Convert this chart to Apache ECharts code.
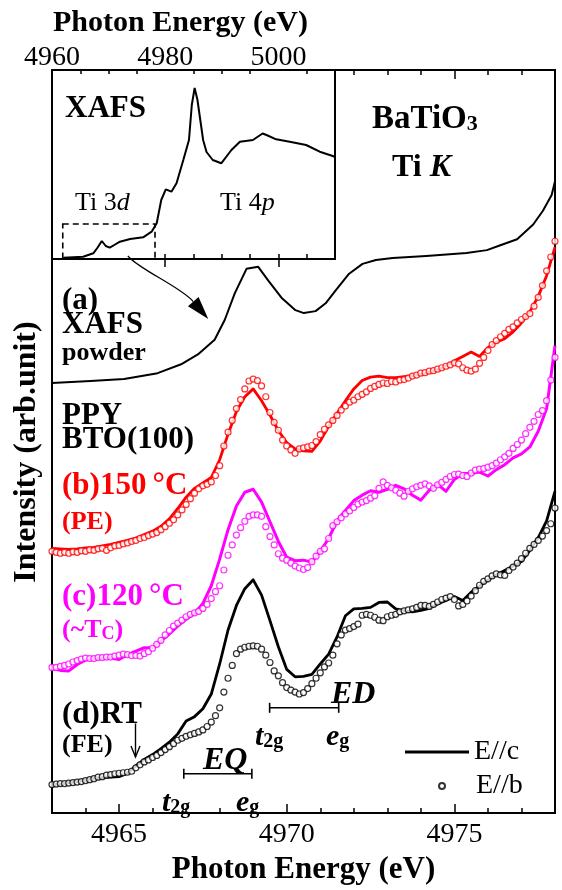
<!DOCTYPE html>
<html><head><meta charset="utf-8">
<script src="https://cdn.jsdelivr.net/npm/echarts@6/dist/echarts.min.js"></script>
<style>html,body{margin:0;padding:0;background:#fff}#chart{width:562px;height:890px}</style>
</head><body><div id="chart"></div>
<script>
// Ti K pre-edge spectra of BaTiO3: powder XAFS and PPY spectra of BTO(100)
const SERIF = '"Liberation Serif", "Times New Roman", serif';
const RED = '#ff0000', MAGENTA = '#ff00ff', BLACK = '#000000';

// Inset: full Ti K-edge XAFS (normalised absorption)
const insetEnergy = [4962.0, 4965.5, 4967.3, 4968.0, 4968.8, 4969.5, 4970.2, 4971.0, 4972.0, 4973.8, 4976.1, 4977.6, 4978.5, 4979.3, 4980.1, 4981.1, 4982.0, 4983.2, 4984.2, 4984.7, 4985.2, 4985.7, 4986.2, 4986.7, 4987.3, 4988.4, 4989.9, 4991.7, 4993.2, 4995.5, 4997.2, 4997.9, 4999.6, 5002.0, 5004.9, 5007.3, 5009.6, 5010.0];
const insetMu = [0.013, 0.023, 0.057, 0.11, 0.18, 0.13, 0.113, 0.14, 0.173, 0.20, 0.217, 0.273, 0.357, 0.59, 0.697, 0.673, 0.757, 0.99, 1.19, 1.54, 1.71, 1.59, 1.39, 1.19, 1.07, 0.99, 0.957, 1.09, 1.173, 1.19, 1.255, 1.24, 1.197, 1.173, 1.14, 1.073, 1.03, 1.02];

// (a) powder XAFS, pre-edge region
const xafsEnergy = [4963.0, 4964.15, 4965.15, 4966.15, 4966.85, 4967.35, 4967.85, 4968.15, 4968.45, 4968.8, 4969.15, 4969.45, 4969.86, 4970.26, 4970.51, 4970.86, 4971.16, 4971.46, 4971.86, 4972.26, 4972.66, 4973.16, 4974.16, 4975.36, 4975.97, 4976.37, 4976.87, 4977.35, 4977.64, 4977.9, 4978.0];
const xafsIntensity = [4.37, 4.39, 4.41, 4.47, 4.56, 4.66, 4.81, 5.01, 5.28, 5.53, 5.55, 5.41, 5.23, 5.11, 5.08, 5.10, 5.18, 5.31, 5.48, 5.58, 5.62, 5.64, 5.66, 5.69, 5.72, 5.77, 5.83, 5.98, 6.12, 6.28, 6.42];

// PPY scans: solid lines sampled every 0.25 eV, open circles every 0.125 eV from 4963 eV
const lineStart = 4963, lineStep = 0.25;
const dotStart = 4963, dotStep = 0.125;

// (b) 150 °C, paraelectric
const pe150Line = [2.69, 2.685, 2.68, 2.685, 2.695, 2.70, 2.715, 2.73, 2.75, 2.77,
  2.795, 2.83, 2.865, 2.915, 2.99, 3.095, 3.21, 3.30, 3.355, 3.41,
  3.59, 3.85, 4.08, 4.23, 4.31, 4.19, 4.045, 3.885, 3.765, 3.70,
  3.68, 3.675, 3.78, 3.93, 4.06, 4.19, 4.31, 4.395, 4.43, 4.44,
  4.425, 4.425, 4.435, 4.445, 4.46, 4.48, 4.505, 4.545, 4.595, 4.64,
  4.685, 4.64, 4.73, 4.785, 4.82, 4.89, 4.98, 5.095, 5.25, 5.46, 5.75];
const pe150Dots = [2.66, 2.65, 2.64, 2.65, 2.64, 2.655, 2.65, 2.665, 2.66, 2.675,
  2.67, 2.685, 2.69, 2.67, 2.695, 2.715, 2.72, 2.735, 2.745, 2.76,
  2.77, 2.79, 2.80, 2.82, 2.835, 2.85, 2.88, 2.91, 2.945, 2.98,
  3.03, 3.08, 3.135, 3.195, 3.25, 3.295, 3.325, 3.34, 3.365, 3.43,
  3.53, 3.73, 3.87, 3.99, 4.11, 4.20, 4.31, 4.39, 4.41, 4.395,
  4.34, 4.23, 4.07, 3.97, 3.89, 3.79, 3.73, 3.69, 3.655, 3.70,
  3.71, 3.72, 3.735, 3.775, 3.845, 3.90, 3.945, 3.99, 4.04, 4.095,
  4.135, 4.175, 4.195, 4.23, 4.255, 4.28, 4.315, 4.335, 4.355, 4.37,
  4.365, 4.385, 4.38, 4.40, 4.405, 4.42, 4.44, 4.45, 4.47, 4.475,
  4.49, 4.495, 4.51, 4.525, 4.54, 4.555, 4.575, 4.565, 4.525, 4.50,
  4.49, 4.51, 4.57, 4.63, 4.70, 4.76, 4.80, 4.84, 4.875, 4.915,
  4.94, 4.98, 5.015, 5.045, 5.075, 5.15, 5.24, 5.36, 5.51, 5.65, 5.81];

// (c) 120 °C, near Tc
const tc120Line = [1.47, 1.45, 1.445, 1.51, 1.555, 1.57, 1.575, 1.575, 1.56, 1.61,
  1.645, 1.68, 1.68, 1.75, 1.82, 1.90, 1.97, 2.03, 2.13, 2.31,
  2.58, 2.88, 3.12, 3.26, 3.29, 3.16, 2.96, 2.76, 2.60, 2.565,
  2.57, 2.55, 2.66, 2.79, 2.97, 3.075, 3.175, 3.23, 3.275, 3.26,
  3.29, 3.33, 3.295, 3.23, 3.18, 3.28, 3.34, 3.27, 3.39, 3.45,
  3.45, 3.465, 3.425, 3.49, 3.54, 3.61, 3.65, 3.72, 3.88, 4.11, 4.75];
const tc120Dots = [1.48, 1.48, 1.49, 1.50, 1.515, 1.535, 1.55, 1.565, 1.575, 1.57,
  1.57, 1.58, 1.58, 1.585, 1.585, 1.595, 1.605, 1.615, 1.61, 1.60,
  1.60, 1.595, 1.62, 1.64, 1.675, 1.715, 1.755, 1.81, 1.855, 1.90,
  1.93, 1.96, 1.995, 2.02, 2.035, 2.05, 2.08, 2.12, 2.18, 2.25,
  2.31, 2.47, 2.62, 2.725, 2.825, 2.90, 2.965, 3.015, 3.03, 3.03,
  3.015, 2.91, 2.81, 2.725, 2.635, 2.59, 2.57, 2.54, 2.51, 2.49,
  2.475, 2.495, 2.555, 2.61, 2.66, 2.685, 2.79, 2.92, 2.96, 3.00,
  3.04, 3.07, 3.105, 3.14, 3.16, 3.175, 3.20, 3.225, 3.30, 3.365,
  3.33, 3.305, 3.28, 3.25, 3.22, 3.27, 3.295, 3.315, 3.33, 3.345,
  3.325, 3.30, 3.335, 3.36, 3.39, 3.42, 3.44, 3.445, 3.43, 3.42,
  3.455, 3.485, 3.495, 3.50, 3.515, 3.53, 3.555, 3.59, 3.62, 3.655,
  3.705, 3.745, 3.79, 3.855, 3.92, 3.98, 4.05, 4.09, 4.19, 4.40, 4.63];

// (d) room temperature, ferroelectric: E//c (line) and E//b (circles)
const rtEcLine = [0.29, 0.295, 0.31, 0.32, 0.335, 0.355, 0.36, 0.365, 0.37, 0.405,
  0.48, 0.545, 0.595, 0.655, 0.72, 0.805, 0.935, 0.98, 1.06, 1.21,
  1.515, 1.86, 2.11, 2.28, 2.37, 2.215, 1.955, 1.69, 1.46, 1.385,
  1.39, 1.41, 1.515, 1.615, 1.79, 2.005, 2.075, 2.08, 2.09, 2.14,
  2.145, 2.075, 2.055, 2.045, 2.06, 2.08, 2.125, 2.16, 2.20, 2.16,
  2.245, 2.305, 2.37, 2.42, 2.465, 2.51, 2.555, 2.67, 2.80, 2.97, 3.27];
const rtEbDots = [0.29, 0.295, 0.30, 0.30, 0.305, 0.31, 0.315, 0.32, 0.33, 0.34,
  0.35, 0.365, 0.37, 0.385, 0.39, 0.40, 0.405, 0.41, 0.415, 0.425,
  0.46, 0.49, 0.52, 0.54, 0.565, 0.585, 0.615, 0.645, 0.675, 0.705,
  0.74, 0.76, 0.78, 0.795, 0.81, 0.825, 0.845, 0.88, 0.925, 0.99,
  1.07, 1.23, 1.37, 1.50, 1.62, 1.665, 1.685, 1.695, 1.70, 1.695,
  1.665, 1.605, 1.53, 1.445, 1.395, 1.325, 1.275, 1.25, 1.23, 1.21,
  1.225, 1.265, 1.315, 1.37, 1.425, 1.485, 1.525, 1.605, 1.72, 1.81,
  1.86, 1.875, 1.895, 1.92, 2.01, 2.02, 2.01, 1.99, 1.96, 1.955,
  1.995, 2.01, 2.02, 2.045, 2.055, 2.065, 2.075, 2.09, 2.11, 2.11,
  2.10, 2.12, 2.145, 2.17, 2.185, 2.20, 2.17, 2.105, 2.12, 2.155,
  2.205, 2.26, 2.315, 2.355, 2.38, 2.41, 2.43, 2.42, 2.415, 2.465,
  2.50, 2.54, 2.585, 2.64, 2.69, 2.73, 2.77, 2.815, 2.87, 2.94, 3.10];

// Axis ticks
const mainLabelTicks = [4965, 4970, 4975];
const mainMinorTicks = [4964, 4966, 4967, 4968, 4969, 4971, 4972, 4973, 4974, 4976, 4977];
const mainTopMajor = [4975];
const mainTopMinor = [4972, 4973, 4974, 4976, 4977];
const insetLabelTicks = [4960, 4980, 5000];
const insetMinorTicks = [4965, 4970, 4975, 4985, 4990, 4995, 5005];
const insetBottomTicks = [4980, 4985, 4990, 4995, 5000, 5005];

// Transition markers: energy span and height of each bar
const eqBar = { from: 4966.93, to: 4968.96, level: 0.40 };
const edBar = { from: 4969.49, to: 4971.55, level: 1.07 };
const feArrow = { energy: 4965.49, top: 0.91, bottom: 0.57 };
// Zoom box in the inset and the arrow that links it to curve (a)
const zoomBox = { from: 4961.9, to: 4978.2, low: -0.02, high: 0.35 };
const linkStart = { energy: 4973.4, mu: 0.03 };
const linkTip = { energy: 4967.66, intensity: 5.02 };

const pair = (xs, ys) => xs.map((x, i) => [x, ys[i]]);
const onGrid = (start, step, ys) => ys.map((y, i) => [+(start + i * step).toFixed(3), y]);
const plain = v => String(v);

const chart = echarts.init(document.getElementById('chart'), null, { renderer: 'canvas' });

function tickAxis(opts) {
  return Object.assign({
    type: 'value', splitLine: { show: false },
    axisLine: { show: false },
    axisLabel: { show: false },
    axisTick: { show: false }
  }, opts);
}

const lineSeries = (name, data, color, width) => ({
  type: 'line', name, data, xAxisIndex: 0, yAxisIndex: 0,
  symbol: 'none', smooth: false, animation: false, z: 3,
  lineStyle: { color, width, join: 'round' }, itemStyle: { color }
});
const dotSeries = (name, data, color) => ({
  type: 'scatter', name, data, xAxisIndex: 0, yAxisIndex: 0,
  symbol: 'circle', symbolSize: 6, animation: false, z: 4,
  itemStyle: { color: '#ffffff', borderColor: color, borderWidth: 1.2 }
});

chart.setOption({
  backgroundColor: '#ffffff',
  animation: false,
  grid: [
    { left: 52, right: 7, top: 70, bottom: 65, show: true, borderColor: BLACK, borderWidth: 2, backgroundColor: 'transparent' },
    { left: 52, top: 70, width: 283, height: 189, show: true, borderColor: BLACK, borderWidth: 2, backgroundColor: '#ffffff' }
  ],
  xAxis: [
    tickAxis({ gridIndex: 0, min: 4963, max: 4978, position: 'bottom',
      axisLabel: { show: true, customValues: mainLabelTicks, formatter: plain, fontSize: 28, fontFamily: SERIF, color: BLACK, margin: 8 },
      axisTick: { show: true, inside: true, length: 9, customValues: mainLabelTicks, lineStyle: { color: BLACK, width: 1.5 } },
      name: 'Photon Energy (eV)', nameLocation: 'middle', nameGap: 36,
      nameTextStyle: { fontSize: 31, fontWeight: 'bold', fontFamily: SERIF, color: BLACK } }),
    tickAxis({ gridIndex: 0, min: 4963, max: 4978, position: 'bottom',
      axisTick: { show: true, inside: true, length: 5, customValues: mainMinorTicks, lineStyle: { color: BLACK, width: 1.5 } } }),
    tickAxis({ gridIndex: 0, min: 4963, max: 4978, position: 'top',
      axisTick: { show: true, inside: true, length: 9, customValues: mainTopMajor, lineStyle: { color: BLACK, width: 1.5 } } }),
    tickAxis({ gridIndex: 1, min: 4960, max: 5010, position: 'top',
      axisLabel: { show: true, customValues: insetLabelTicks, formatter: plain, fontSize: 28, fontFamily: SERIF, color: BLACK, margin: -2 },
      axisTick: { show: true, inside: true, length: 8, customValues: insetLabelTicks, lineStyle: { color: BLACK, width: 1.5 } },
      name: 'Photon Energy (eV)', nameLocation: 'middle', nameGap: 32,
      nameTextStyle: { fontSize: 30, fontWeight: 'bold', fontFamily: SERIF, color: BLACK, padding: [0, 26, 0, 0] } }),
    tickAxis({ gridIndex: 1, min: 4960, max: 5010, position: 'top',
      axisTick: { show: true, inside: true, length: 4, customValues: insetMinorTicks, lineStyle: { color: BLACK, width: 1.5 } } }),
    tickAxis({ gridIndex: 1, min: 4960, max: 5010, position: 'bottom',
      axisTick: { show: true, inside: true, length: 5, customValues: insetBottomTicks, lineStyle: { color: BLACK, width: 1.5 } } }),
    tickAxis({ gridIndex: 0, min: 4963, max: 4978, position: 'top',
      axisTick: { show: true, inside: true, length: 5, customValues: mainTopMinor, lineStyle: { color: BLACK, width: 1.5 } } })
  ],
  yAxis: [
    tickAxis({ gridIndex: 0, min: 0, max: 7.55 }),
    tickAxis({ gridIndex: 1, min: 0, max: 1.89 })
  ],
  legend: [
    { data: [{ name: 'E//c', icon: 'rect' }], orient: 'vertical', left: 400, top: 733, itemWidth: 64, itemHeight: 3,
      textStyle: { fontSize: 28, fontFamily: SERIF, color: BLACK } },
    { data: [{ name: 'E//b', icon: 'circle' }], orient: 'vertical', left: 433, top: 767, itemWidth: 6, itemHeight: 6,
      textStyle: { fontSize: 28, fontFamily: SERIF, color: BLACK, padding: [0, 0, 0, 26] } }
  ],
  series: [
    {
      type: 'line', name: 'XAFS inset', xAxisIndex: 3, yAxisIndex: 1,
      data: pair(insetEnergy, insetMu), symbol: 'none', animation: false,
      lineStyle: { color: BLACK, width: 2 }, clip: false,
      markArea: {
        silent: true,
        itemStyle: { color: 'rgba(0,0,0,0)', borderColor: BLACK, borderWidth: 1.6, borderType: [6, 4] },
        data: [[{ coord: [zoomBox.from, zoomBox.high] }, { coord: [zoomBox.to, zoomBox.low] }]]
      }
    },
    lineSeries('XAFS powder', pair(xafsEnergy, xafsIntensity), BLACK, 2),
    lineSeries('150 °C E//c', onGrid(lineStart, lineStep, pe150Line), RED, 2.8),
    dotSeries('150 °C E//b', onGrid(dotStart, dotStep, pe150Dots), RED),
    lineSeries('120 °C E//c', onGrid(lineStart, lineStep, tc120Line), MAGENTA, 3),
    dotSeries('120 °C E//b', onGrid(dotStart, dotStep, tc120Dots), MAGENTA),
    lineSeries('E//c', onGrid(lineStart, lineStep, rtEcLine), BLACK, 2.8),
    dotSeries('E//b', onGrid(dotStart, dotStep, rtEbDots), BLACK)
  ]
});

// ---- annotations placed in data space ----
const mainPx = (x, y) => chart.convertToPixel({ xAxisIndex: 0, yAxisIndex: 0 }, [x, y]);
const insetPx = (x, y) => chart.convertToPixel({ xAxisIndex: 3, yAxisIndex: 1 }, [x, y]);

const font = (size, weight, style) => `${style || 'normal'} ${weight || 'normal'} ${size}px ${SERIF}`;
function label(text, x, y, size, opts) {
  opts = opts || {};
  return {
    type: 'text', z: 20,
    style: Object.assign({
      text, x, y, fill: opts.color || BLACK,
      font: font(size, opts.weight || 'bold', opts.style),
      align: opts.align || 'left', verticalAlign: 'middle',
      textAlign: opts.align || 'left', textVerticalAlign: 'middle'
    }, opts.rich ? { rich: opts.rich } : {})
  };
}
const subRich = (mainSize, subSize, mainStyle) => ({
  m: { font: font(mainSize, 'bold', mainStyle) },
  s: { font: font(subSize, 'bold'), verticalAlign: 'bottom' }
});

function bar(b) {
  const a = mainPx(b.from, b.level), c = mainPx(b.to, b.level);
  const s = { stroke: BLACK, lineWidth: 1.6 };
  return [
    { type: 'line', z: 20, shape: { x1: a[0], y1: a[1], x2: c[0], y2: c[1] }, style: s },
    { type: 'line', z: 20, shape: { x1: a[0], y1: a[1] - 5, x2: a[0], y2: a[1] + 5 }, style: s },
    { type: 'line', z: 20, shape: { x1: c[0], y1: c[1] - 5, x2: c[0], y2: c[1] + 5 }, style: s }
  ];
}

const p0 = insetPx(linkStart.energy, linkStart.mu);
const tip = mainPx(linkTip.energy, linkTip.intensity);
const headLen = 23, headHalf = 7;
const dir = [0.652, 0.758];
const base = [tip[0] - dir[0] * headLen, tip[1] - dir[1] * headLen];
const perp = [-dir[1], dir[0]];

const fa = mainPx(feArrow.energy, feArrow.top), fb = mainPx(feArrow.energy, feArrow.bottom);

const elements = [
  // y-axis title, centred on the plot height
  { type: 'text', x: 27, y: 452, rotation: Math.PI / 2, z: 20,
    style: { text: 'Intensity (arb.unit)', x: 0, y: 0, font: font(32, 'bold'), fill: BLACK,
      align: 'center', verticalAlign: 'middle', textAlign: 'center', textVerticalAlign: 'middle' } },
  // inset labels
  label('XAFS', 65, 108.5, 31),
  label('Ti 3{i|d}', 75, 203.5, 26, { weight: 'normal', rich: { i: { font: font(26, 'normal', 'italic') } } }),
  label('Ti 4{i|p}', 220, 203.5, 26, { weight: 'normal', rich: { i: { font: font(26, 'normal', 'italic') } } }),
  // sample labels
  label('{m|BaTiO}{s|3}', 372, 119, 33, { rich: subRich(33, 22) }),
  label('Ti {i|K}', 392, 168, 32, { rich: { i: { font: font(32, 'bold', 'italic') } } }),
  label('(a)', 62, 301, 31),
  label('XAFS', 62, 325, 31),
  label('powder', 62, 353, 26),
  label('PPY', 62, 416, 31),
  label('BTO(100)', 62, 440, 31),
  label('(b)150\u2009°C', 62, 486, 31, { color: RED }),
  label('(PE)', 62, 522, 26, { color: RED }),
  label('(c)120\u2009°C', 62, 597, 31, { color: MAGENTA }),
  label('{m|(~T}{s|C}{m|)}', 62, 630, 26, { color: MAGENTA, rich: subRich(26, 18) }),
  label('(d)RT', 62, 715, 31),
  label('(FE)', 62, 745, 26),
  // transition labels
  label('EQ', 203, 761, 32, { style: 'italic' }),
  label('ED', 331, 695, 32, { style: 'italic' }),
  label('{m|t}{s|2g}', 255, 737, 30, { rich: subRich(30, 20, 'italic') }),
  label('{m|e}{s|g}', 326, 737, 30, { rich: subRich(30, 20, 'italic') }),
  label('{m|t}{s|2g}', 162, 803, 30, { rich: subRich(30, 20, 'italic') }),
  label('{m|e}{s|g}', 236, 803, 30, { rich: subRich(30, 20, 'italic') }),
  ...bar(eqBar), ...bar(edBar),
  // RT onset arrow
  { type: 'line', z: 20, shape: { x1: fa[0], y1: fa[1], x2: fb[0], y2: fb[1] }, style: { stroke: BLACK, lineWidth: 1.4 } },
  { type: 'polyline', z: 20, shape: { points: [[fb[0] - 4.5, fb[1] - 11], [fb[0], fb[1]], [fb[0] + 4.5, fb[1] - 11]] }, style: { stroke: BLACK, lineWidth: 1.4, fill: null } },
  // link arrow from the zoom box to curve (a)
  { type: 'bezierCurve', z: 20,
    shape: { x1: p0[0], y1: p0[1], cpx1: p0[0] + 12, cpy1: p0[1] + 14, cpx2: base[0] - 13, cpy2: base[1] - 15, x2: base[0], y2: base[1] },
    style: { stroke: BLACK, lineWidth: 1.2, fill: null } },
  { type: 'polygon', z: 20,
    shape: { points: [tip, [base[0] + perp[0] * headHalf, base[1] + perp[1] * headHalf], [base[0] - perp[0] * headHalf, base[1] - perp[1] * headHalf]] },
    style: { fill: BLACK } }
];

chart.setOption({ graphic: { elements } });
</script>
</body></html>
